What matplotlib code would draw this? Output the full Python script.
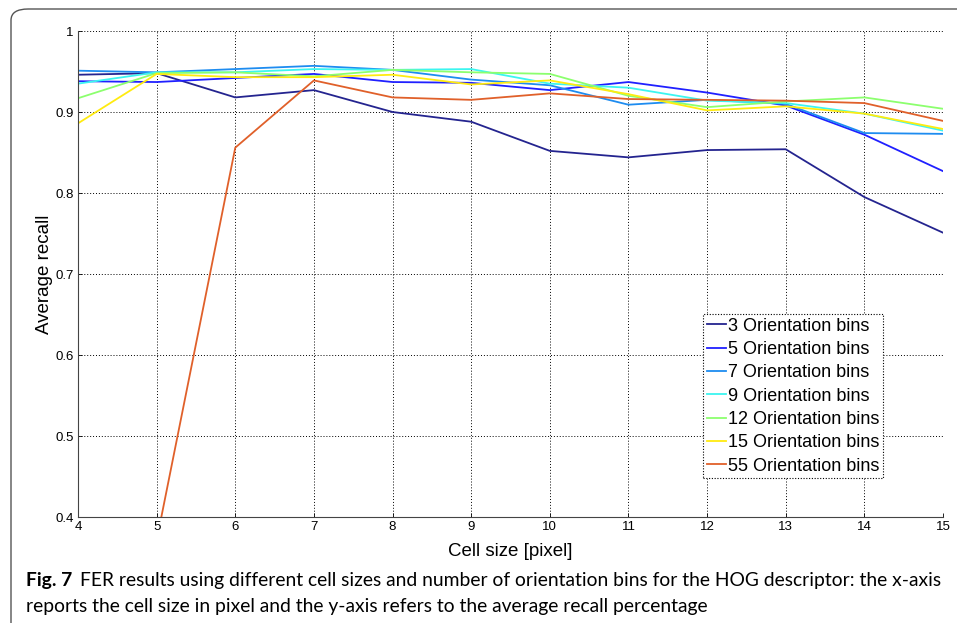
#FER recall vs cell size for several HOG orientation bin counts
import matplotlib
matplotlib.use("Agg")
import matplotlib.pyplot as plt
import matplotlib.patches as mpatches

cell_size = [4, 5, 6, 7, 8, 9, 10, 11, 12, 13, 14, 15]

bins3 = [0.946, 0.948, 0.918, 0.927, 0.900, 0.888, 0.852, 0.844, 0.853, 0.854, 0.795, 0.751]
bins5 = [0.938, 0.937, 0.942, 0.947, 0.937, 0.936, 0.927, 0.937, 0.924, 0.908, 0.872, 0.827]
bins7 = [0.951, 0.949, 0.953, 0.957, 0.952, 0.940, 0.933, 0.909, 0.915, 0.910, 0.874, 0.873]
bins9 = [0.935, 0.949, 0.949, 0.953, 0.952, 0.953, 0.935, 0.930, 0.914, 0.911, 0.898, 0.877]
bins12 = [0.917, 0.948, 0.949, 0.944, 0.952, 0.949, 0.947, 0.920, 0.906, 0.913, 0.918, 0.904]
bins15 = [0.886, 0.947, 0.943, 0.943, 0.946, 0.934, 0.939, 0.922, 0.902, 0.907, 0.898, 0.879]
bins55 = [0.330, 0.371, 0.856, 0.939, 0.918, 0.915, 0.923, 0.916, 0.915, 0.914, 0.911, 0.889]

series = [bins3, bins5, bins7, bins9, bins12, bins15, bins55]
labels = ["3 Orientation bins", "5 Orientation bins", "7 Orientation bins",
          "9 Orientation bins", "12 Orientation bins", "15 Orientation bins",
          "55 Orientation bins"]
colors = ["#24248f", "#2020ff", "#1e8cf0", "#3cf5f0", "#8cff6e", "#ffeb10", "#e0602a"]

yticks = [0.4, 0.5, 0.6, 0.7, 0.8, 0.9, 1.0]
ytick_labels = ["0.4", "0.5", "0.6", "0.7", "0.8", "0.9", "1"]

caption_bold = "Fig. 7"
caption_1 = "FER results using different cell sizes and number of orientation bins for the HOG descriptor: the x-axis"
caption_2 = "reports the cell size in pixel and the y-axis refers to the average recall percentage"

W, H = 957, 623
fig = plt.figure(figsize=(W / 100, H / 100), dpi=100)
ax = fig.add_axes([78 / W, 1 - 517 / H, 865 / W, 486 / H])

for vals, lab, col in zip(series, labels, colors):
    ax.plot(cell_size, vals, color=col, lw=1.3, label=lab)

ax.set_xlim(4, 15)
ax.set_ylim(0.4, 1.0)
ax.set_xticks(cell_size)
ax.set_xticklabels([str(c) for c in cell_size], fontsize=9.5, family="Liberation Sans")
ax.set_yticks(yticks)
ax.set_yticklabels(ytick_labels, fontsize=9.5, family="Liberation Sans")
ax.tick_params(direction="in", length=3, width=0.6, pad=3)
ax.grid(True, linestyle=(0, (1, 2)), color="black", lw=0.7)
ax.spines["top"].set_visible(False)
ax.spines["right"].set_visible(False)
ax.spines["left"].set_color("#444444")
ax.spines["bottom"].set_color("#444444")

ax.set_xlabel("Cell size [pixel]", fontsize=13.5, family="Liberation Sans", labelpad=7)
ax.set_ylabel("Average recall", fontsize=13.5, family="Liberation Sans", labelpad=2)

leg = ax.legend(loc="upper left", bbox_to_anchor=(0.7225, 0.4177), borderaxespad=0,
                prop={"family": "Liberation Sans", "size": 13}, handlelength=1.1,
                handletextpad=0.1, labelspacing=0.35, borderpad=0.2,
                fancybox=False, framealpha=1)
leg.get_frame().set_edgecolor("black")
leg.get_frame().set_linestyle((0, (1, 1.5)))
leg.get_frame().set_linewidth(0.8)

# rounded frame around the whole figure, open at right and bottom
frame = mpatches.FancyBboxPatch((11 / W, -0.2), 1.2, 1.2 - 9 / H,
                                boxstyle="round,pad=0,rounding_size=0.018",
                                transform=fig.transFigure, fill=False,
                                edgecolor="#555555", lw=1.0)
fig.patches.append(frame)

# caption, sized so the first line spans the same width as in the figure
cap_font = "Lato"
size = 12.0
t1 = fig.text(26 / W, 1 - 586 / H, caption_bold, fontsize=size, weight="bold",
              family=cap_font, va="baseline")
t2 = fig.text(0, 1 - 586 / H, caption_1, fontsize=size, family=cap_font, va="baseline")
fig.canvas.draw()
r = fig.canvas.get_renderer()
total = t1.get_window_extent(r).width + 8 + t2.get_window_extent(r).width
size = size * 912 / total
t1.set_fontsize(size)
t2.set_fontsize(size)
fig.canvas.draw()
bb = t1.get_window_extent(r)
t2.set_x((bb.x1 + 8) / W)
fig.text(26 / W, 1 - 612 / H, caption_2, fontsize=size, family=cap_font, va="baseline")

fig.savefig("out.png", dpi=100)
